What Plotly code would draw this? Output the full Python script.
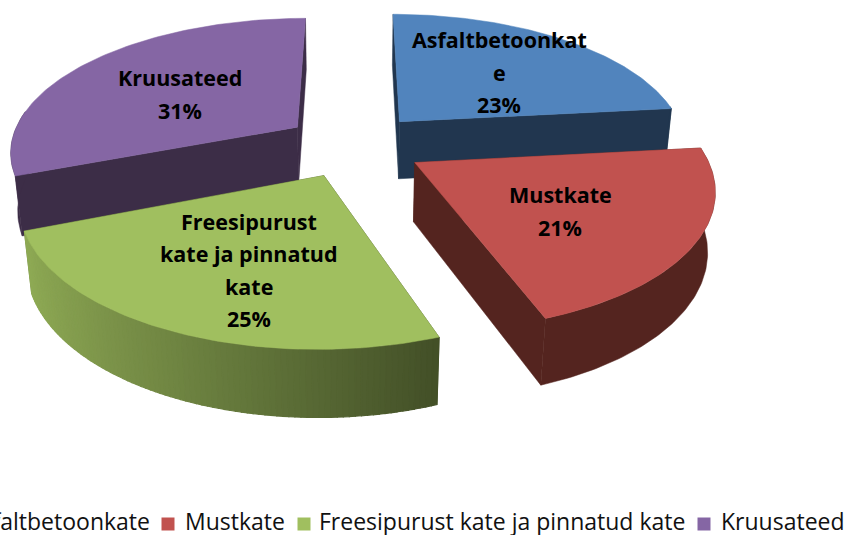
import math
import plotly.graph_objects as go

categories = ["Asfaltbetoonkate", "Mustkate", "Freesipurust kate ja pinnatud kate", "Kruusateed"]
values = [23.3, 21.2, 24.6, 30.9]
slice_labels = [["Asfaltbetoonkat", "e", "23%"], ["Mustkate", "21%"],
                ["Freesipurust", "kate ja pinnatud", "kate", "25%"], ["Kruusateed", "31%"]]
top_colors = ["#5184BD", "#C1524F", "#A0BF5F", "#8566A4"]
wall_colors = ["#21364F", "#54241F", "#7A9446", "#3C2D47"]
label_xy = [(499, 72), (560, 211), (249, 270), (180, 94)]
legend_text_xy = [(152, 521), (183, 521), (317, 521), (719, 521)]
swatch_xy = [(168, 524), (304, 524), (704, 524)]

# 3D pie projection parameters
CX, CY, F = 354, 145, 292
SIN_E, COS_E, D = 0.4616, 0.887, 5.17
H = 0.23
EXPLODE = 0.24
RADIUS = 0.985
START = 0.0
LABEL_FONT = "Open Sans"
LEGEND_FONT = "Open Sans"
LABEL_SIZE = 21.5
LINE_GAP = 32.5


def project(x, y, z):
    up = y * SIN_E + z * COS_E
    depth = D + y * COS_E - z * SIN_E
    s = F * D / depth
    return CX + x * s, CY - up * s


def shade(hex_color, f):
    r, g, b = (int(hex_color[i:i + 2], 16) for i in (1, 3, 5))
    return f"rgb({int(r * f)},{int(g * f)},{int(b * f)})"


fig = go.Figure()


def poly(pts, color, lw=0.5):
    xs = [p[0] for p in pts] + [pts[0][0]]
    ys = [p[1] for p in pts] + [pts[0][1]]
    fig.add_trace(go.Scatter(x=xs, y=ys, mode="lines", fill="toself", fillcolor=color,
                             line=dict(color=color, width=lw), hoverinfo="skip", showlegend=False))


# slice spans from values
total = sum(values)
spans = []
acc = START
for v in values:
    a0 = acc
    a1 = acc + v / total * 2 * math.pi
    spans.append((a0, a1))
    acc = a1

order = [3, 0, 2, 1]
for i in order:
    a0, a1 = spans[i]
    mid = (a0 + a1) / 2
    ox, oy = EXPLODE * math.sin(mid), EXPLODE * math.cos(mid)
    n = 90
    angs = [a0 + (a1 - a0) * k / n for k in range(n + 1)]
    arc = [(ox + RADIUS * math.sin(a), oy + RADIUS * math.cos(a)) for a in angs]
    # radial walls
    for end in (arc[0], arc[-1]):
        poly([project(ox, oy, 0), project(*end, 0), project(*end, -H), project(ox, oy, -H)],
             wall_colors[i] if i != 2 else shade("#A0BF5F", 0.4))
    # outer wall (facing camera part)
    vis = [k for k in range(n) if math.cos((angs[k] + angs[k + 1]) / 2) <= 0.12]
    if i == 2:
        # green wall: horizontal shading, light on the left and dark on the right
        for k in reversed(vis):
            t = (math.sin((angs[k] + angs[k + 1]) / 2) + 1) / 2
            poly([project(*arc[k], 0), project(*arc[k + 1], 0), project(*arc[k + 1], -H), project(*arc[k], -H)],
                 shade("#A0BF5F", 0.92 - 0.75 * t), lw=1.2)
    elif vis:
        seg = arc[vis[0]:vis[-1] + 2]
        poly([project(*p, 0) for p in seg] + [project(*p, -H) for p in reversed(seg)], wall_colors[i])
    # top face
    poly([project(ox, oy, 0)] + [project(*p, 0) for p in arc], top_colors[i])

# legend swatches
fig.add_trace(go.Scatter(x=[p[0] for p in swatch_xy], y=[p[1] for p in swatch_xy], mode="markers",
                         marker=dict(symbol="square", size=13, color=top_colors[1:]),
                         hoverinfo="skip", showlegend=False))

annotations = []
for (x, y), lines in zip(label_xy, slice_labels):
    y0 = y - LINE_GAP * (len(lines) - 1) / 2
    for j, line in enumerate(lines):
        annotations.append(dict(x=x, y=y0 + j * LINE_GAP, xref="x", yref="y", text=f"<b>{line}</b>",
                                showarrow=False, font=dict(family=LABEL_FONT, size=LABEL_SIZE, color="#000000")))
for (x, y), txt in zip(legend_text_xy, categories):
    annotations.append(dict(x=x, y=y, xref="x", yref="y", text=txt, showarrow=False,
                            xanchor="right" if txt == categories[0] else "left",
                            font=dict(family=LEGEND_FONT, size=23, color="#111111")))

fig.update_layout(
    width=845, height=535, autosize=False,
    margin=dict(l=0, r=0, t=0, b=0),
    paper_bgcolor="white", plot_bgcolor="white",
    xaxis=dict(range=[0, 845], visible=False, fixedrange=True),
    yaxis=dict(range=[535, 0], visible=False, fixedrange=True),
    annotations=annotations,
    showlegend=False,
)
fig.write_html("out.html", config={"displayModeBar": False},
               post_script="document.body.style.margin='0';document.body.style.overflow='hidden';")
